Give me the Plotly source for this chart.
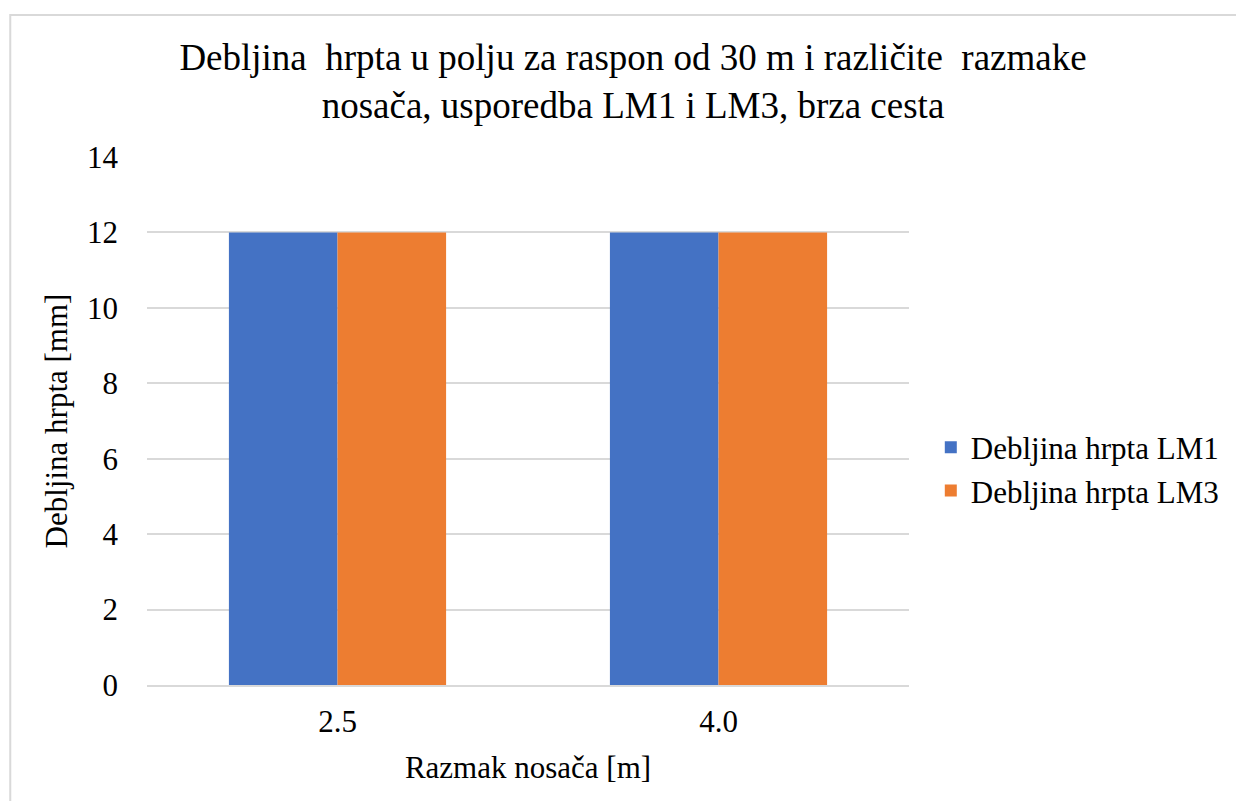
import plotly.graph_objects as go

categories = ["2.5", "4.0"]
lm1_values = [12, 12]
lm3_values = [12, 12]
series_names = ["Debljina hrpta LM1", "Debljina hrpta LM3"]
y_ticks = [0, 2, 4, 6, 8, 10, 12, 14]

font_family = "Liberation Serif"

W, H = 1228, 793
L, R, T, B = 139, 320, 149, 116
pw, ph = W - L - R, H - T - B

fig = go.Figure()
fig.add_trace(go.Bar(x=categories, y=lm1_values, name=series_names[0],
                     marker_color="#4472C4", marker_line_width=0, legendgroup="a"))
fig.add_trace(go.Bar(x=categories, y=lm3_values, name=series_names[1],
                     marker_color="#ED7D31", marker_line_width=0, legendgroup="b"))

fig.update_layout(
    width=W, height=H,
    paper_bgcolor="white", plot_bgcolor="white",
    margin=dict(l=L, r=R, t=T, b=B),
    barmode="group", bargap=0.43, bargroupgap=0,
    font=dict(family=font_family, size=31, color="#000000"),
    title=dict(
        text="Debljina  hrpta u polju za raspon od 30 m i različite  razmake<br>nosača, usporedba LM1 i LM3, brza cesta",
        x=625 / W, xref="container", xanchor="center",
        y=(H - 62) / H, yref="container", yanchor="middle",
        font=dict(size=37, family=font_family, color="#000000"),
    ),
    legend=dict(
        x=(930 - L) / pw, xanchor="left", y=(H - B - 461) / ph, yanchor="middle",
        font=dict(size=31, family=font_family),
        itemwidth=30, tracegroupgap=0, traceorder="grouped",
    ),
    xaxis=dict(
        type="category", showgrid=False, showline=True, linecolor="#d9d9d9", linewidth=1.5,
        ticks="", tickfont=dict(size=31), ticklabelstandoff=8,
        title=dict(text="Razmak nosača [m]", font=dict(size=31), standoff=18),
    ),
    yaxis=dict(
        range=[0, 14], tickvals=y_ticks, showgrid=True, gridcolor="#d9d9d9", gridwidth=1.5,
        zeroline=False, showline=False, ticks="", tickfont=dict(size=31), ticklabelstandoff=28,
        title=dict(text="Debljina hrpta [mm]", font=dict(size=31), standoff=10),
    ),
    shapes=[dict(type="rect", xref="paper", yref="paper",
                 x0=(1 - L) / pw, x1=1.6, y0=-0.6, y1=(H - B - 7) / ph,
                 line=dict(color="#d9d9d9", width=2), fillcolor="rgba(0,0,0,0)", layer="below")],
)

fig.write_html("out.html")
